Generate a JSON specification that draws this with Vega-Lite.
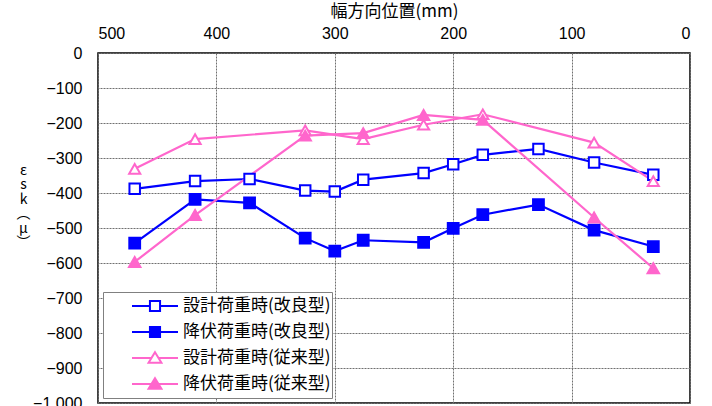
{
  "$schema": "https://vega.github.io/schema/vega-lite/v6.json",
  "width": 592,
  "height": 350,
  "autosize": {"type": "none"},
  "padding": {"left": 98, "top": 53, "right": 22, "bottom": 3},
  "background": "white",
  "config": {
    "font": "Liberation Sans",
    "view": {"stroke": "black", "strokeWidth": 1.5},
    "axis": {
      "grid": true,
      "gridColor": "#707070",
      "gridDash": [2, 1],
      "gridWidth": 1,
      "ticks": false,
      "tickSize": 0,
      "domain": false,
      "labelFont": "Liberation Sans",
      "labelFontSize": 16,
      "labelColor": "black",
      "titleColor": "black"
    },
    "legend": {
      "clipHeight": 26,
      "rowPadding": 0
    }
  },
  "data": {
    "values": [
      {"series": "設計荷重時(改良型)", "x": 469, "y": -388},
      {"series": "設計荷重時(改良型)", "x": 418, "y": -366},
      {"series": "設計荷重時(改良型)", "x": 372, "y": -360},
      {"series": "設計荷重時(改良型)", "x": 325, "y": -393},
      {"series": "設計荷重時(改良型)", "x": 300, "y": -396},
      {"series": "設計荷重時(改良型)", "x": 276, "y": -362},
      {"series": "設計荷重時(改良型)", "x": 225, "y": -343},
      {"series": "設計荷重時(改良型)", "x": 200, "y": -318},
      {"series": "設計荷重時(改良型)", "x": 175, "y": -291},
      {"series": "設計荷重時(改良型)", "x": 128, "y": -274},
      {"series": "設計荷重時(改良型)", "x": 81, "y": -313},
      {"series": "設計荷重時(改良型)", "x": 31, "y": -348},
      {"series": "降伏荷重時(改良型)", "x": 469, "y": -543},
      {"series": "降伏荷重時(改良型)", "x": 418, "y": -418},
      {"series": "降伏荷重時(改良型)", "x": 372, "y": -428},
      {"series": "降伏荷重時(改良型)", "x": 325, "y": -529},
      {"series": "降伏荷重時(改良型)", "x": 300, "y": -566},
      {"series": "降伏荷重時(改良型)", "x": 276, "y": -535},
      {"series": "降伏荷重時(改良型)", "x": 225, "y": -541},
      {"series": "降伏荷重時(改良型)", "x": 200, "y": -501},
      {"series": "降伏荷重時(改良型)", "x": 175, "y": -462},
      {"series": "降伏荷重時(改良型)", "x": 128, "y": -433},
      {"series": "降伏荷重時(改良型)", "x": 81, "y": -506},
      {"series": "降伏荷重時(改良型)", "x": 31, "y": -553},
      {"series": "設計荷重時(従来型)", "x": 469, "y": -331},
      {"series": "設計荷重時(従来型)", "x": 418, "y": -246},
      {"series": "設計荷重時(従来型)", "x": 325, "y": -221},
      {"series": "設計荷重時(従来型)", "x": 276, "y": -246},
      {"series": "設計荷重時(従来型)", "x": 225, "y": -205},
      {"series": "設計荷重時(従来型)", "x": 175, "y": -175},
      {"series": "設計荷重時(従来型)", "x": 81, "y": -256},
      {"series": "設計荷重時(従来型)", "x": 31, "y": -366},
      {"series": "降伏荷重時(従来型)", "x": 469, "y": -597},
      {"series": "降伏荷重時(従来型)", "x": 418, "y": -463},
      {"series": "降伏荷重時(従来型)", "x": 325, "y": -236},
      {"series": "降伏荷重時(従来型)", "x": 276, "y": -229},
      {"series": "降伏荷重時(従来型)", "x": 225, "y": -177},
      {"series": "降伏荷重時(従来型)", "x": 175, "y": -191},
      {"series": "降伏荷重時(従来型)", "x": 81, "y": -470},
      {"series": "降伏荷重時(従来型)", "x": 31, "y": -615}
    ]
  },
  "encoding": {
    "x": {
      "field": "x",
      "type": "quantitative",
      "scale": {"domain": [0, 500], "reverse": true, "nice": false},
      "axis": {
        "orient": "top",
        "values": [0, 100, 200, 300, 400, 500],
        "labelPadding": 12,
        "title": "幅方向位置(mm)",
        "titleFont": "Noto Sans CJK JP",
        "titleFontSize": 17,
        "titleFontWeight": "normal",
        "titlePadding": 5
      }
    },
    "y": {
      "field": "y",
      "type": "quantitative",
      "scale": {"domain": [-1000, 0], "nice": false},
      "axis": {
        "values": [0, -100, -200, -300, -400, -500, -600, -700, -800, -900, -1000],
        "labelPadding": 16,
        "title": ["ε", "s", "k", "︵", "μ", "︶"],
        "titleFont": "Noto Sans CJK JP",
        "titleFontSize": 14,
        "titleFontWeight": "normal",
        "titleLineHeight": 14.5,
        "titleAngle": 0,
        "titleAlign": "center",
        "titleBaseline": "top",
        "titleX": -75,
        "titleY": 110
      }
    }
  },
  "resolve": {"legend": {"stroke": "independent"}},
  "layer": [
    {
      "mark": {"type": "line", "strokeWidth": 2.2},
      "encoding": {
        "stroke": {
          "field": "series",
          "type": "nominal",
          "scale": {
            "domain": ["設計荷重時(改良型)", "降伏荷重時(改良型)", "設計荷重時(従来型)", "降伏荷重時(従来型)"],
            "range": ["#0000FF", "#0000FF", "#FF66CC", "#FF66CC"]
          },
          "legend": {
            "title": null,
            "orient": "bottom-left",
            "offset": 5,
            "padding": 1,
            "fillColor": "white",
            "strokeColor": "#808080",
            "labelFont": "Noto Sans CJK JP",
            "labelFontSize": 17,
            "labelColor": "black",
            "labelOffset": 4,
            "labelLimit": 300,
            "labelExpr": "datum.label + '　 '",
            "symbolOffset": 27,
            "symbolSize": 2116,
            "symbolStrokeWidth": 2,
            "encode": {
              "symbols": {
                "update": {
                  "shape": {"signal": "indexof(datum.value, '改良型') >= 0 ? 'M-1,0H-0.22M0.22,0H1M-0.22,-0.22H0.22V0.22H-0.22Z' : 'M-1,0H-0.14M0.14,0H1M0,-0.25L0.28,0.21H-0.28Z'"},
                  "fill": {"signal": "indexof(datum.value, '設計') >= 0 ? 'white' : (indexof(datum.value, '改良型') >= 0 ? '#0000FF' : '#FF66CC')"},
                  "size": {"value": 2116},
                  "strokeWidth": {"value": 2}
                },
                "shape": {"value": {"expr": "indexof(datum.value, '改良型') >= 0 ? 'M-1,0H-0.22M0.22,0H1M-0.22,-0.22H0.22V0.22H-0.22Z' : 'M-1,0H-0.14M0.14,0H1M0,-0.25L0.28,0.21H-0.28Z'"}},
                "fill": {"value": {"expr": "indexof(datum.value, '設計') >= 0 ? 'white' : (indexof(datum.value, '改良型') >= 0 ? '#0000FF' : '#FF66CC')"}},
                "size": {"value": 2116},
                "strokeWidth": {"value": 2}
              }
            }
          }
        }
      }
    },
    {
      "mark": {"type": "point", "opacity": 1, "strokeWidth": 2},
      "encoding": {
        "stroke": {
          "field": "series",
          "type": "nominal",
          "legend": null
        },
        "shape": {
          "field": "series",
          "type": "nominal",
          "scale": {
            "domain": ["設計荷重時(改良型)", "降伏荷重時(改良型)", "設計荷重時(従来型)", "降伏荷重時(従来型)"],
            "range": ["square", "square", "triangle-up", "triangle-up"]
          },
          "legend": null
        },
        "fill": {
          "field": "series",
          "type": "nominal",
          "scale": {
            "domain": ["設計荷重時(改良型)", "降伏荷重時(改良型)", "設計荷重時(従来型)", "降伏荷重時(従来型)"],
            "range": ["white", "#0000FF", "white", "#FF66CC"]
          },
          "legend": null
        },
        "size": {
          "field": "series",
          "type": "nominal",
          "scale": {
            "domain": ["設計荷重時(改良型)", "降伏荷重時(改良型)", "設計荷重時(従来型)", "降伏荷重時(従来型)"],
            "range": [110, 130, 150, 180]
          },
          "legend": null
        }
      }
    }
  ]
}
